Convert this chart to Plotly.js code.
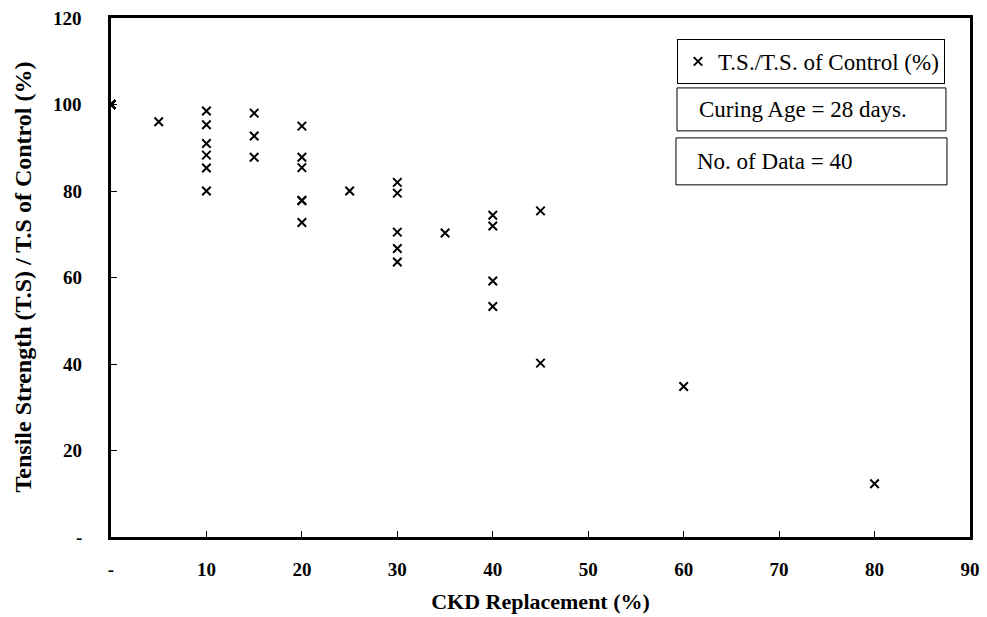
<!DOCTYPE html>
<html>
<head>
<meta charset="utf-8">
<script src="https://cdn.plot.ly/plotly-3.0.1.min.js"></script>
<style>
  html, body { margin: 0; padding: 0; background: #ffffff; }
  #chart { width: 987px; height: 617px; }
</style>
</head>
<body>
<div id="chart"></div>
<script>
// CKD replacement level (%) for each specimen
const ckdReplacement = [
  0, 0, 0, 0, 0, 0, 0, 0, 0,
  5,
  10, 10, 10, 10, 10, 10,
  15, 15, 15,
  20, 20, 20, 20, 20, 20,
  25,
  30, 30, 30, 30, 30,
  35,
  40, 40, 40, 40,
  45, 45,
  60,
  80
];

// Tensile strength relative to the control mix (%)
const strengthRatio = [
  100, 100, 100, 100, 100, 100, 100, 100, 100,
  96,
  98.5, 95.3, 91, 88.3, 85.3, 80,
  98, 92.7, 87.8,
  95, 87.8, 85.4, 77.8, 77.8, 72.7,
  80,
  82, 79.5, 70.5, 66.7, 63.6,
  70.3,
  74.4, 71.9, 59.2, 53.3,
  75.4, 40.2,
  34.8,
  12.3
];

const xTickVals = [0, 10, 20, 30, 40, 50, 60, 70, 80, 90];
const xTickText = ['-', '10', '20', '30', '40', '50', '60', '70', '80', '90'];
const yTickVals = [0, 20, 40, 60, 80, 100, 120];
const yTickText = ['-', '20', '40', '60', '80', '100', '120'];

const seriesName = 'T.S./T.S. of Control (%)';
const xTitle = 'CKD Replacement (%)';
const yTitle = 'Tensile Strength (T.S) / T.S of Control (%)';
const curingNote = 'Curing Age = 28 days.';
const countNote = 'No. of Data = ' + strengthRatio.length;

const serif = 'Liberation Serif, Times New Roman, serif';

const trace = {
  type: 'scatter',
  mode: 'markers',
  x: ckdReplacement,
  y: strengthRatio,
  name: seriesName,
  marker: {
    symbol: 'x-thin',
    size: 8.5,
    color: '#000000',
    line: { color: '#000000', width: 2 }
  },
  showlegend: true,
  hoverinfo: 'x+y'
};

const axisCommon = {
  showline: true,
  linecolor: '#000000',
  linewidth: 3,
  mirror: true,
  showgrid: false,
  zeroline: false,
  ticks: 'inside',
  ticklen: 6,
  tickwidth: 1,
  tickcolor: '#000000',
  tickmode: 'array',
  fixedrange: true
};

// y tick labels sit well left of the frame, so they are placed as
// annotations at each tick value on the y scale
const yLabelAnnotations = yTickVals.map((v, i) => ({
  xref: 'paper', yref: 'y', x: -0.0314, y: v,
  xanchor: 'right', yanchor: 'middle', showarrow: false,
  text: '<b>' + yTickText[i] + '</b>',
  font: { family: serif, size: 19, color: '#000000' }
}));

const layout = {
  width: 987,
  height: 617,
  margin: { l: 111, r: 17, t: 18, b: 79.5 },
  paper_bgcolor: '#ffffff',
  plot_bgcolor: '#ffffff',
  font: { family: serif, color: '#000000' },
  xaxis: Object.assign({}, axisCommon, {
    range: [0, 90],
    tickvals: xTickVals,
    ticktext: xTickText,
    tickfont: { family: serif, size: 19, weight: 'bold' },
    ticklabelstandoff: 13,
    title: {
      text: '<b>' + xTitle + '</b>',
      font: { family: serif, size: 22 },
      standoff: 15
    }
  }),
  yaxis: Object.assign({}, axisCommon, {
    range: [0, 120],
    tickvals: yTickVals,
    showticklabels: false
  }),
  showlegend: true,
  legend: {
    x: 0.6589,
    y: 0.9596,
    xanchor: 'left',
    yanchor: 'top',
    bgcolor: '#ffffff',
    bordercolor: '#000000',
    borderwidth: 1,
    font: { family: serif, size: 23, color: '#000000' },
    itemwidth: 30
  },
  shapes: [
    {
      type: 'rect', xref: 'paper', yref: 'paper',
      x0: 0.6589, x1: 0.972, y0: 0.7825, y1: 0.8653,
      line: { color: '#000000', width: 1 }, fillcolor: '#ffffff', layer: 'above'
    },
    {
      type: 'rect', xref: 'paper', yref: 'paper',
      x0: 0.6577, x1: 0.9732, y0: 0.6785, y1: 0.769,
      line: { color: '#000000', width: 1 }, fillcolor: '#ffffff', layer: 'above'
    }
  ],
  annotations: yLabelAnnotations.concat([
    {
      // vertical axis title
      xref: 'paper', yref: 'paper', x: -0.1036, y: 0.5,
      xanchor: 'center', yanchor: 'middle', textangle: -90, showarrow: false,
      text: '<b>' + yTitle + '</b>',
      font: { family: serif, size: 24, color: '#000000' }
    },
    {
      xref: 'paper', yref: 'paper', x: 0.6822, y: 0.8239,
      xanchor: 'left', yanchor: 'middle', showarrow: false,
      text: curingNote, font: { family: serif, size: 23, color: '#000000' }
    },
    {
      xref: 'paper', yref: 'paper', x: 0.6799, y: 0.7238,
      xanchor: 'left', yanchor: 'middle', showarrow: false,
      text: countNote, font: { family: serif, size: 23, color: '#000000' }
    }
  ])
};

Plotly.newPlot('chart', [trace], layout, { displayModeBar: false, staticPlot: true });
</script>
</body>
</html>
